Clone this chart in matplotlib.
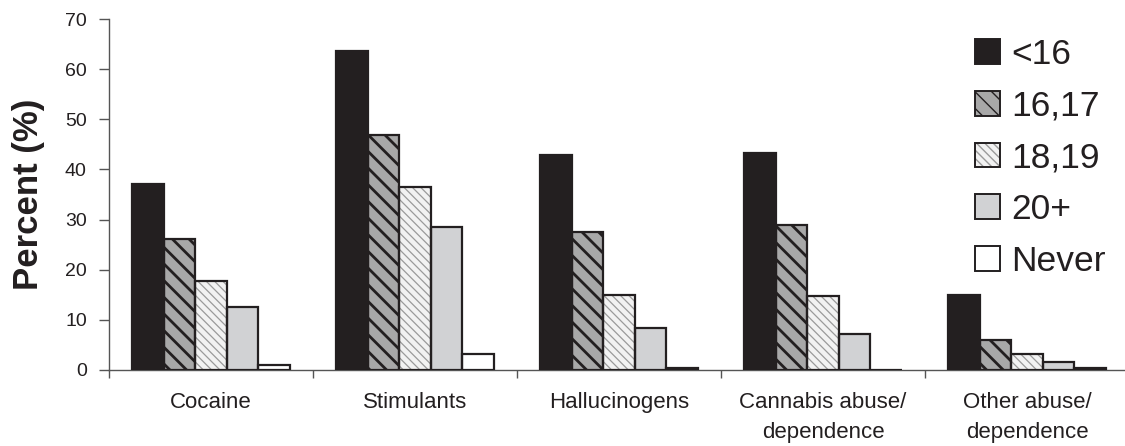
import numpy as np
import matplotlib
matplotlib.use("Agg")
import matplotlib.pyplot as plt
from matplotlib.patches import Patch
from matplotlib.legend_handler import HandlerTuple

categories = ["Cocaine", "Stimulants", "Hallucinogens",
              "Cannabis abuse/\ndependence", "Other abuse/\ndependence"]
groups = ["<16", "16,17", "18,19", "20+", "Never"]

under_16 = [37.0, 63.7, 42.9, 43.3, 14.9]
age_16_17 = [26.1, 46.8, 27.5, 28.9, 6.0]
age_18_19 = [17.8, 36.5, 15.0, 14.8, 3.2]
age_20_plus = [12.6, 28.5, 8.4, 7.1, 1.5]
never = [1.0, 3.2, 0.4, 0.0, 0.4]

series = [under_16, age_16_17, age_18_19, age_20_plus, never]

# fill, hatch, hatch colour, hatch linewidth
styles = [
    ("#231f20", None, "#231f20", 1.0),
    ("#a8a8a8", "\\\\", "#231f20", 2.0),
    ("#f2f2f2", "\\\\\\\\", "#9a9a9a", 0.9),
    ("#d1d2d4", None, "#231f20", 1.0),
    ("#ffffff", None, "#231f20", 1.0),
]

TEXT = "#231f20"


def main():
    plt.rcParams["font.family"] = ["Liberation Sans", "DejaVu Sans"]

    fig = plt.figure(figsize=(11.25, 4.46), dpi=100)
    ax = fig.add_axes([109 / 1125, 76 / 446, 1020 / 1125, 351 / 446])

    x = np.arange(len(categories))
    width = 0.155
    offsets = (np.arange(len(groups)) - 2) * width

    handles = []
    for vals, off, (fc, hatch, hc, hlw), name in zip(series, offsets, styles, groups):
        plt.rcParams["hatch.linewidth"] = hlw
        ax.bar(x + off, vals, width, color=fc, hatch=hatch, edgecolor=hc,
               linewidth=0, zorder=2)
        ax.bar(x + off, vals, width, fill=False, edgecolor=TEXT,
               linewidth=1.6, zorder=3)
        fill = Patch(facecolor=fc, hatch=hatch, edgecolor=hc, linewidth=0)
        edge = Patch(fill=False, edgecolor=TEXT, linewidth=1.4)
        handles.append((fill, edge))

    ax.set_xlim(-0.5, 4.5)
    ax.set_ylim(0, 70)
    ax.set_yticks(range(0, 71, 10))
    ax.set_xticks(np.arange(-0.5, 4.0, 1.0))
    ax.set_xticklabels([])
    ax.set_xticks(x, minor=True)
    ax.set_xticklabels(categories, minor=True, fontsize=16, color=TEXT,
                       linespacing=1.55, va="top")
    ax.tick_params(axis="x", which="minor", length=0, pad=16)
    ax.tick_params(axis="x", which="major", length=6, width=1, color="#555555",
                   direction="out")
    ax.tick_params(axis="y", length=7, width=1, color="#555555",
                   labelsize=14, labelcolor=TEXT, pad=9)

    for s in ["top", "right"]:
        ax.spines[s].set_visible(False)
    ax.spines["left"].set_color("#555555")
    ax.spines["bottom"].set_color("#555555")
    ax.spines["left"].set_linewidth(1)
    ax.spines["bottom"].set_linewidth(1)

    ax.set_ylabel("Percent (%)", fontsize=25, fontweight="bold", color=TEXT,
                  labelpad=14)

    leg = ax.legend(handles=handles, labels=groups, loc="upper left",
                    handler_map={tuple: HandlerTuple(ndivide=1)},
                    bbox_to_anchor=(866 / 1020, 0.946), frameon=False,
                    fontsize=25.5, handlelength=0.7, handleheight=0.7,
                    handletextpad=0.32, labelspacing=0.53, borderpad=0,
                    borderaxespad=0)
    for t in leg.get_texts():
        t.set_color(TEXT)

    fig.savefig("out.png", dpi=100)
    plt.close(fig)


if __name__ == "__main__":
    main()
